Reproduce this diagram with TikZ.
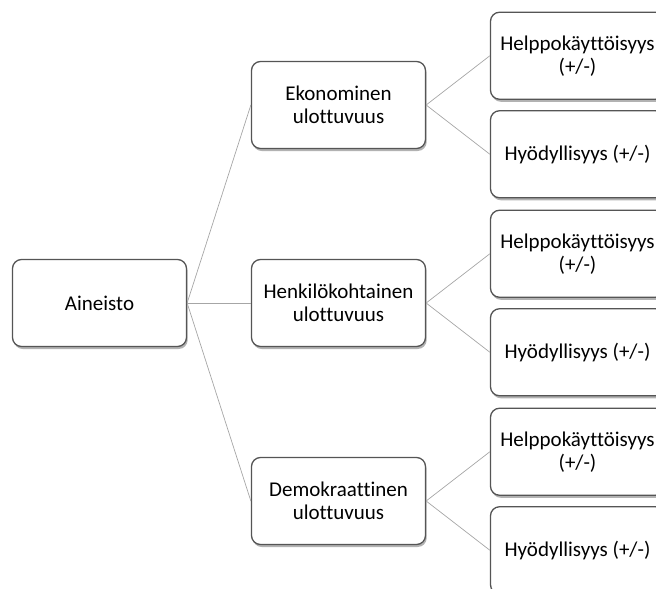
\documentclass[tikz,border=0pt]{standalone}
\usepackage{fontspec}
\setmainfont[Ligatures=NoCommon]{Carlito}
\usetikzlibrary{shadows}
\definecolor{boxgray}{HTML}{555555}
\definecolor{linegray}{HTML}{A6A6A6}
\tikzset{box/.style={rectangle,rounded corners=9pt,draw=boxgray,line width=1.3pt,fill=white,
	minimum width=174pt,minimum height=87pt,inner sep=1pt,align=center,
	font=\fontsize{21}{23}\selectfont,
	drop shadow={shadow xshift=1.2pt,shadow yshift=-2.5pt,fill=black,opacity=0.3}}}
\begin{document}
\begin{tikzpicture}[x=1pt,y=1pt,every node/.style={box},
	grow'=right,level distance=239pt,
	level 1/.style={sibling distance=198pt},
	level 2/.style={sibling distance=98.5pt},
	edge from parent/.style={draw=linegray,line width=0.7pt},
	parent anchor=east,child anchor=west]
\clip (0,0) rectangle (656,-589);
\path (99.5,-303) node (aineisto) {Aineisto}
child {node (eko) {Ekonominen\\ulottuvuus}
	child {node (eko1) {Helppokäyttöisyys\\(+/-)}}
	child {node (eko2) {Hyödyllisyys (+/-)}}
	}
child {node (henk) {Henkilökohtainen\\ulottuvuus}
	child {node (henk1) {Helppokäyttöisyys\\(+/-)}}
	child {node (henk2) {Hyödyllisyys (+/-)}}
	}
child {node (demo) {Demokraattinen\\ulottuvuus}
	child {node (demo1) {Helppokäyttöisyys\\(+/-)}}
	child {node (demo2) {Hyödyllisyys (+/-)}}
	};
\end{tikzpicture}
\end{document}
